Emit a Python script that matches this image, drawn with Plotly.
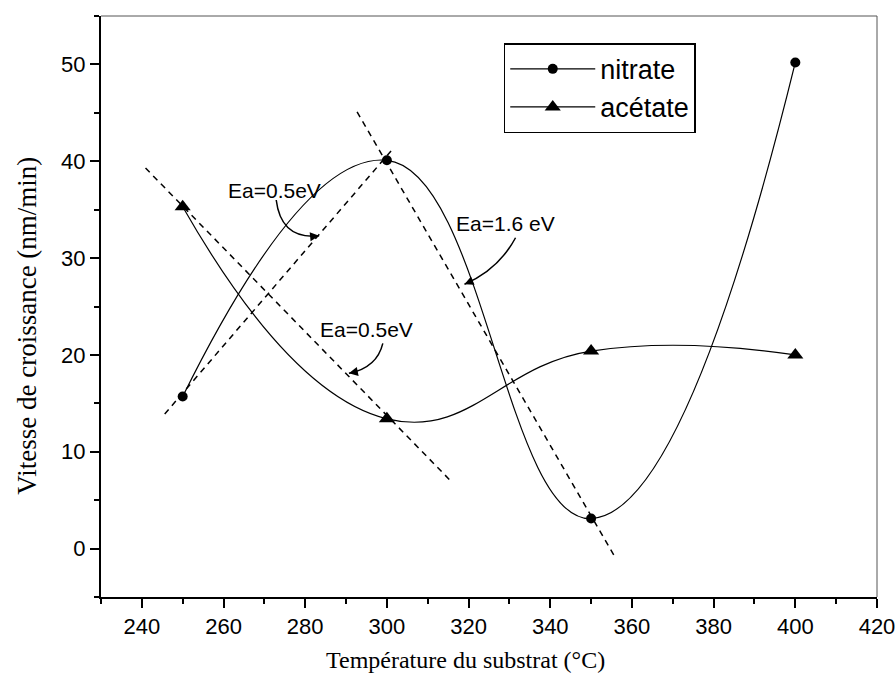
import plotly.graph_objects as go

# ---- data ----
temperature = [250, 300, 350, 400]
nitrate = [15.7, 40.1, 3.1, 50.2]
acetate = [35.3, 13.4, 20.4, 20.0]

x_ticks = [240, 260, 280, 300, 320, 340, 360, 380, 400, 420]
y_ticks = [0, 10, 20, 30, 40, 50]

# dashed fit lines (endpoints)
fit_nitrate_05_x = [245.6, 301.7]
fit_nitrate_05_y = [13.9, 41.4]
fit_acetate_05_x = [240.9, 315.6]
fit_acetate_05_y = [39.3, 7.0]
fit_nitrate_16_x = [292.7, 355.6]
fit_nitrate_16_y = [45.1, -0.7]

# annotation labels: text position, curve start, control, arrow tip
ann_labels = ["Ea=0.5eV", "Ea=1.6 eV", "Ea=0.5eV"]
ann_text_x = [272.4, 329.0, 294.9]
ann_text_y = [37.0, 33.6, 22.6]
ann_start_x = [272.9, 331.5, 299.0]
ann_start_y = [36.0, 32.1, 21.2]
ann_ctrl_x = [274.1, 327.3, 297.6]
ann_ctrl_y = [31.9, 28.8, 18.7]
ann_tip_x = [283.4, 319.0, 290.7]
ann_tip_y = [32.3, 27.3, 18.1]

x_title = "Température du substrat (°C)"
y_title = "Vitesse de croissance (nm/min)"

fig = go.Figure()

dash_style = dict(color="black", width=1.5, dash="6px,5px")
for fx, fy in [(fit_nitrate_05_x, fit_nitrate_05_y),
               (fit_acetate_05_x, fit_acetate_05_y),
               (fit_nitrate_16_x, fit_nitrate_16_y)]:
    fig.add_trace(go.Scatter(x=fx, y=fy, mode="lines", line=dash_style,
                             showlegend=False, hoverinfo="skip"))

fig.add_trace(go.Scatter(
    x=temperature, y=nitrate, name="nitrate", mode="lines+markers",
    line=dict(color="black", width=1.2, shape="spline", smoothing=1.3),
    marker=dict(symbol="circle", size=10, color="black")))
fig.add_trace(go.Scatter(
    x=temperature, y=acetate, name="acétate", mode="lines+markers",
    line=dict(color="black", width=1.2, shape="spline", smoothing=1.3),
    marker=dict(symbol="triangle-up", size=14, color="black")))

shapes = []
annotations = []
for i, lab in enumerate(ann_labels):
    annotations.append(dict(x=ann_text_x[i], y=ann_text_y[i], xref="x", yref="y",
                            text=lab, showarrow=False,
                            font=dict(family="Liberation Sans, Arial", size=21, color="black")))
    path = "M {},{} Q {},{} {},{}".format(ann_start_x[i], ann_start_y[i],
                                         ann_ctrl_x[i], ann_ctrl_y[i],
                                         ann_tip_x[i], ann_tip_y[i])
    shapes.append(dict(type="path", path=path, xref="x", yref="y",
                       line=dict(color="black", width=1.5)))
    # arrow head along final tangent
    tx = ann_tip_x[i] - 0.25 * (ann_tip_x[i] - ann_ctrl_x[i])
    ty = ann_tip_y[i] - 0.25 * (ann_tip_y[i] - ann_ctrl_y[i])
    annotations.append(dict(x=ann_tip_x[i], y=ann_tip_y[i], ax=tx, ay=ty,
                            xref="x", yref="y", axref="x", ayref="y",
                            text="", showarrow=True, arrowhead=2, arrowsize=1.2,
                            arrowwidth=1.5, arrowcolor="black", standoff=0))

# axis titles (placed as in the original, slightly off-centre)
annotations.append(dict(text=x_title, xref="paper", yref="paper", x=0.47, y=0,
                        yshift=-63, xanchor="center", yanchor="middle", showarrow=False,
                        font=dict(family="Liberation Serif, Times New Roman", size=24,
                                  color="black")))
annotations.append(dict(text=y_title, xref="paper", yref="paper", x=0, y=0.467,
                        xshift=-74, xanchor="center", yanchor="middle", showarrow=False,
                        textangle=-90,
                        font=dict(family="Liberation Serif, Times New Roman", size=27,
                                  color="black")))

# thin grey top/right frame
shapes.append(dict(type="line", xref="paper", yref="paper", x0=0, x1=1, y0=1, y1=1,
                   line=dict(color="#555555", width=1)))
shapes.append(dict(type="line", xref="paper", yref="paper", x0=1, x1=1, y0=0, y1=1,
                   line=dict(color="#555555", width=1)))

axis_font = dict(family="Liberation Sans, Arial", size=22, color="black")

fig.update_layout(
    width=896, height=682,
    margin=dict(l=101, r=19, t=16, b=85, autoexpand=False),
    paper_bgcolor="white", plot_bgcolor="white",
    shapes=shapes, annotations=annotations,
    showlegend=True,
    legend=dict(x=0.519, y=0.953, xanchor="left", yanchor="top",
                bordercolor="black", borderwidth=1.5, bgcolor="white",
                font=dict(family="Liberation Sans, Arial", size=27, color="black"),
                itemwidth=85, tracegroupgap=0),
    xaxis=dict(range=[230, 420], tickvals=x_ticks, ticks="outside", ticklen=9,
               tickwidth=2, tickcolor="black", showline=True, linecolor="black",
               linewidth=2, showgrid=False, zeroline=False, tickfont=axis_font,
               ticklabeloverflow="allow", automargin=False,
               minor=dict(dtick=10, tick0=230, ticks="outside", ticklen=5, tickwidth=2,
                          tickcolor="black", showgrid=False)),
    yaxis=dict(range=[-5, 55], tickvals=y_ticks, ticks="outside", ticklen=9,
               tickwidth=2, tickcolor="black", showline=True, linecolor="black",
               linewidth=2, showgrid=False, zeroline=False, tickfont=axis_font,
               ticklabeloverflow="allow", automargin=False,
               minor=dict(dtick=5, tick0=-5, ticks="outside", ticklen=5, tickwidth=2,
                          tickcolor="black", showgrid=False)),
)

fig.write_html("out.html")
